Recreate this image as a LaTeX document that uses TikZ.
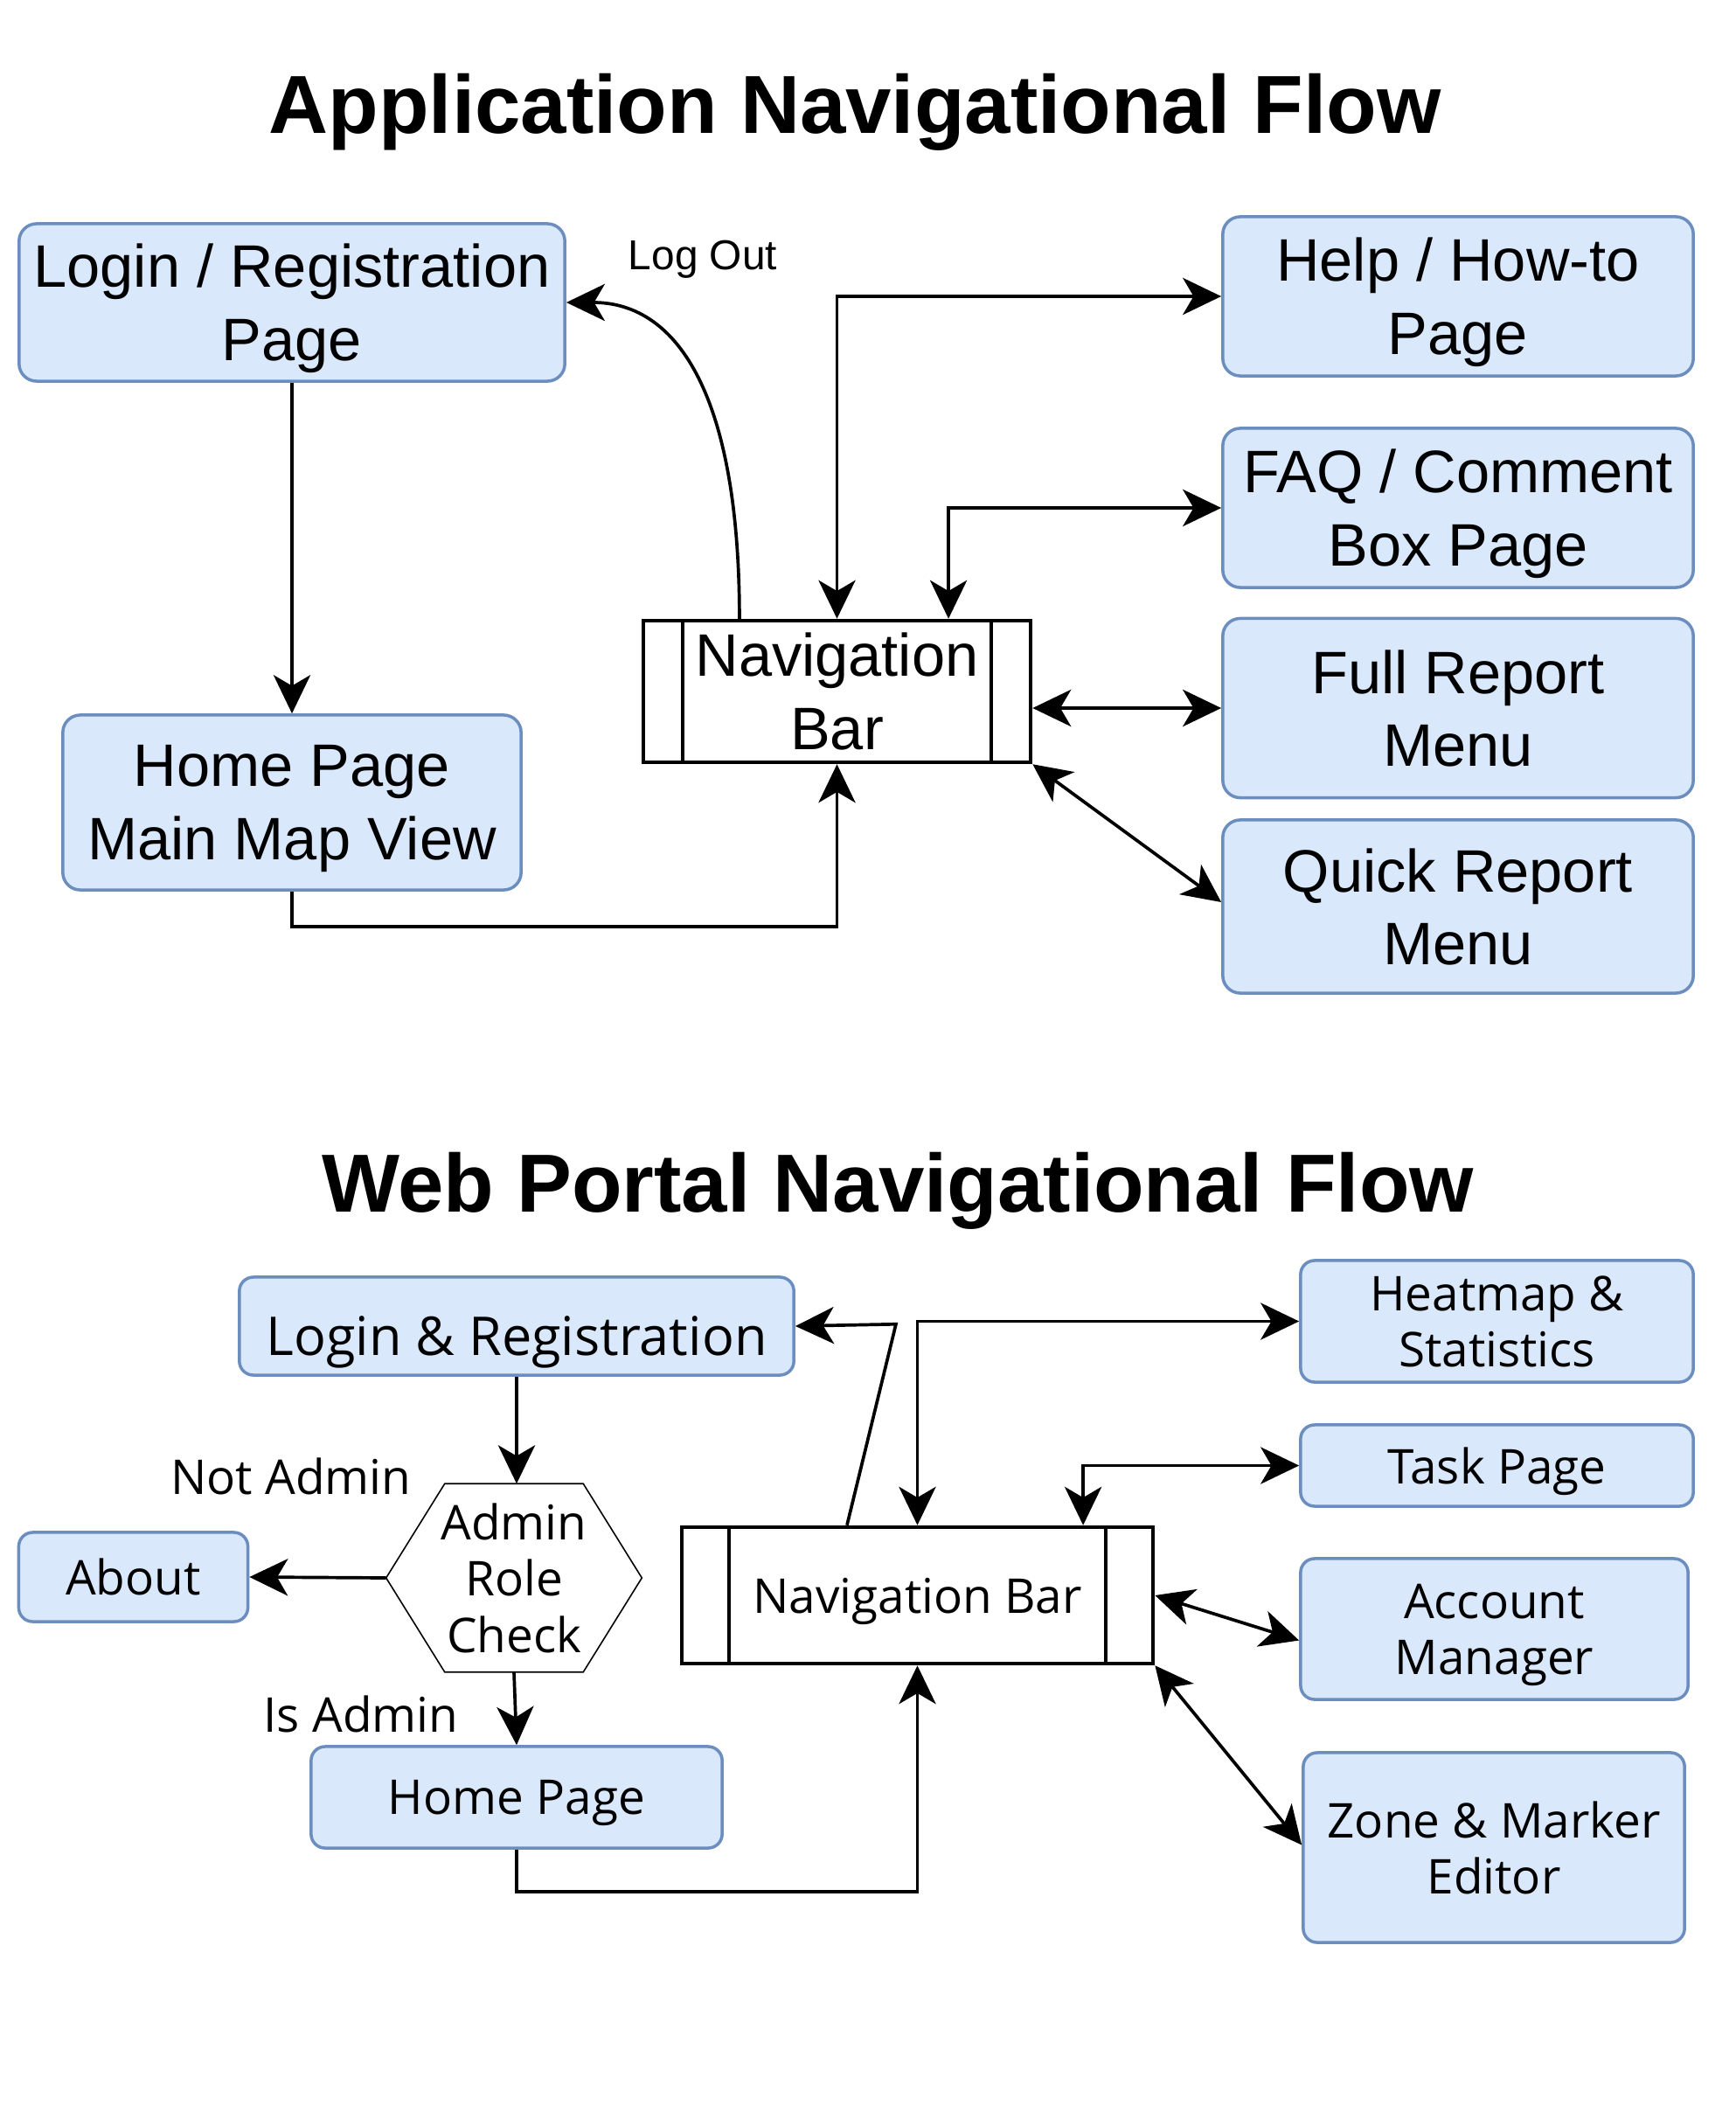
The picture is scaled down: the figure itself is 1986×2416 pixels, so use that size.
\documentclass[tikz,border=0pt]{standalone}
\usepackage{fontspec}
\setmainfont{Liberation Sans}
\newfontfamily\portalfont{Open Sans}
\usetikzlibrary{arrows.meta,positioning,calc}
\definecolor{pagefill}{HTML}{DAE8FC}
\definecolor{pageline}{HTML}{6C8EBF}
\tikzset{
  pagebox/.style={draw=pageline, fill=pagefill, line width=1pt, rounded corners=#1,
               align=center, inner sep=0pt, text depth=0pt},
  pagebox/.default=0.2cm,
  navbox/.style={draw=black, fill=white, line width=1.25pt, align=center, inner sep=0pt, text depth=0pt,
               path picture={\draw[line width=1.25pt]
                 ([xshift=#1]path picture bounding box.north west) -- ([xshift=#1]path picture bounding box.south west)
                 ([xshift=-#1]path picture bounding box.north east) -- ([xshift=-#1]path picture bounding box.south east);}},
  apptext/.style={font=\fontsize{19.5pt}{23.8pt}\selectfont},
  webtext/.style={font=\portalfont\fontsize{15.6pt}{18.3pt}\selectfont},
  heading/.style={font=\fontsize{26.8pt}{32pt}\selectfont\bfseries, anchor=base},
  edgelabel/.style={inner sep=0pt, text depth=0pt},
  flow/.style={-{Stealth[length=12.5pt,width=12pt,inset=3.5pt]}, line width=1.05pt},
  twoway/.style={{Stealth[length=12.5pt,width=12pt,inset=3.5pt]}-{Stealth[length=12.5pt,width=12pt,inset=3.5pt]}, line width=1.05pt},
}
\def\xR{1668}
\def\xW{1712.5}
\begin{document}
\begin{tikzpicture}[x=0.01cm, y=-0.01cm]
  \useasboundingbox (0,0) rectangle (1986,2416);
  % application flow
  \node[heading] (apptitle) at (978,153) {Application Navigational Flow};
  \node[pagebox, apptext, minimum width=6.24cm, minimum height=1.8cm] (login1) at (334,346) {Login / Registration\\Page};
  \node[pagebox, apptext, minimum width=5.24cm, minimum height=2.0cm] (home1) at (334,918) {Home Page\\Main Map View};
  \node[navbox=0.45cm, apptext, minimum width=4.43cm, minimum height=1.62cm] (nav1) at (957.5,791) {Navigation\\Bar};
  \node[pagebox, apptext, minimum width=5.38cm, minimum height=1.82cm] (help) at (\xR,339) {Help / How-to\\Page};
  \node[pagebox, apptext, minimum width=5.38cm, minimum height=1.82cm] (faq) at (\xR,581) {FAQ / Comment\\Box Page};
  \node[pagebox, apptext, minimum width=5.38cm, minimum height=2.05cm] (full) at (\xR,810) {Full Report\\Menu};
  \node[pagebox, apptext, minimum width=5.38cm, minimum height=1.98cm] (quick) at (\xR,1037) {Quick Report\\Menu};
  \node[edgelabel, font=\fontsize{13.6pt}{16pt}\selectfont] (logout) at (804,292) {Log Out};
  \draw[flow] (login1.south) -- (home1.north);
  \draw[flow] (home1.south) -- ++(0,40) -| (nav1.south);
  \draw[flow] ([xshift=-1.115cm]nav1.north) .. controls +(0,-250) and +(130,0) .. (login1.east);
  \draw[twoway] (help.west) -| (nav1.north);
  \draw[twoway] (faq.west) -| ([xshift=1.275cm]nav1.north);
  \draw[twoway] (nav1.east |- full.west) -- (full.west);
  \draw[twoway] (nav1.south east) -- ([yshift=0.05cm]quick.west);
  % web portal flow
  \node[heading] (webtitle) at (1027,1386) {Web Portal Navigational Flow};
  \node[pagebox=0.16cm, webtext, font=\portalfont\fontsize{17.4pt}{20pt}\selectfont, text height=19pt,
        minimum width=6.34cm, minimum height=1.12cm] (login2) at (591,1517) {Login \& Registration};
  \node[webtext, align=center, inner sep=0pt, text depth=0pt, minimum width=2.91cm, minimum height=2.14cm] (check) at (588,1805) {Admin\\Role\\Check};
  \draw[line width=0.45pt] (check.west) -- ([xshift=0.67cm]check.north west) -- ([xshift=-0.67cm]check.north east)
    -- (check.east) -- ([xshift=-0.67cm]check.south east) -- ([xshift=0.67cm]check.south west) -- cycle;
  \node[pagebox=0.16cm, webtext, minimum width=2.62cm, minimum height=1.02cm] (about) at (152.5,1804) {About};
  \node[pagebox=0.16cm, webtext, minimum width=4.70cm, minimum height=1.16cm] (home2) at (591,2056) {Home Page};
  \node[navbox=0.54cm, webtext, minimum width=5.39cm, minimum height=1.56cm] (nav2) at (1049.5,1825) {Navigation Bar};
  \node[pagebox=0.16cm, webtext, minimum width=4.49cm, minimum height=1.39cm] (heat) at (\xW,1511.5) {Heatmap \&\\Statistics};
  \node[pagebox=0.16cm, webtext, minimum width=4.49cm, minimum height=0.93cm] (task) at (\xW,1676.5) {Task Page};
  \node[pagebox=0.16cm, webtext, minimum width=4.43cm, minimum height=1.61cm] (acct) at (1709.5,1863.5) {Account\\Manager};
  \node[pagebox=0.16cm, webtext, minimum width=4.36cm, minimum height=2.17cm] (zone) at (1709,2113.5) {Zone \& Marker\\Editor};
  \node[edgelabel, webtext] (notadmin) at (333,1689) {Not Admin};
  \node[edgelabel, webtext] (isadmin) at (413,1961) {Is Admin};
  \draw[flow] (login2.south) -- (login2.south |- check.north);
  \draw[flow] (check.west) -- (about.east);
  \draw[flow] (check.south) -- (home2.north);
  \draw[flow] (home2.south) -- ++(0,48) -| (nav2.south);
  \draw[flow] ([xshift=-0.805cm]nav2.north) -- ++(56,-230) -- (login2.east);
  \draw[twoway] (heat.west) -| (nav2.north);
  \draw[twoway] (task.west) -| ([xshift=1.895cm]nav2.north);
  \draw[twoway] (nav2.east) -- ([yshift=-0.13cm]acct.west);
  \draw[twoway] (nav2.south east) -- ([yshift=0.03cm]zone.west);
\end{tikzpicture}
\end{document}
